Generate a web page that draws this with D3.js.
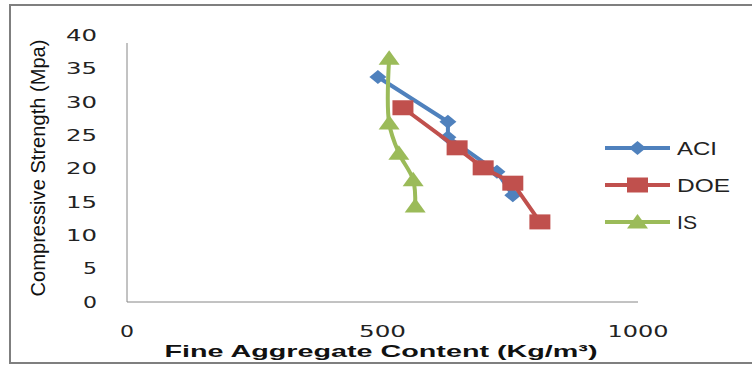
<!DOCTYPE html>
<html><head><meta charset="utf-8">
<script src="https://cdn.jsdelivr.net/npm/d3@7"></script>
<style>body{margin:0;background:#fff}svg{display:block}</style>
</head><body>
<svg id="c" width="752" height="367"></svg>
<script>
const xTicks = [0, 500, 1000];
const yTicks = [0, 5, 10, 15, 20, 25, 30, 35, 40];
const seriesNames = ["ACI", "DOE", "IS"];
const aciX = [491, 628, 628, 724, 755];
const aciY = [33.7, 27.0, 24.7, 19.5, 16.0];
const doeX = [540, 646, 697, 755, 808];
const doeY = [29.1, 23.1, 20.1, 17.8, 12.0];
const isX = [513, 513, 532, 560, 564];
const isY = [36.5, 26.8, 22.3, 18.3, 14.4];

const svg = d3.select("#c");
const x = d3.scaleLinear().domain([0, 1000]).range([127, 638]);
const y = d3.scaleLinear().domain([0, 40]).range([302, 35]);

// frame
svg.append("rect").attr("x", 10).attr("y", 5).attr("width", 800).attr("height", 358)
  .attr("fill", "none").attr("stroke", "#7f7f7f").attr("stroke-width", 2);

// axis lines
svg.append("line").attr("x1", x(0)).attr("x2", x(0)).attr("y1", y(40) + 8).attr("y2", y(0))
  .attr("stroke", "#868686").attr("stroke-width", 1);
svg.append("line").attr("x1", x(0)).attr("x2", x(1000)).attr("y1", y(0)).attr("y2", y(0))
  .attr("stroke", "#868686").attr("stroke-width", 1);

const numFont = "DejaVu Sans, Verdana, sans-serif";
// y tick labels
svg.append("g").selectAll("text").data(yTicks).join("text")
  .attr("x", 97).attr("y", d => y(d)).attr("dy", "0.36em")
  .attr("text-anchor", "end").attr("font-family", numFont).attr("font-size", 16)
  .attr("fill", "#222")
  .attr("textLength", d => String(d).length === 1 ? 14 : 31)
  .attr("lengthAdjust", "spacingAndGlyphs")
  .text(d => d);

// x tick labels
svg.append("g").selectAll("text").data(xTicks).join("text")
  .attr("x", d => x(d)).attr("y", 337)
  .attr("text-anchor", "middle").attr("font-family", numFont).attr("font-size", 16)
  .attr("fill", "#222")
  .attr("textLength", d => [14, 31, 47, 61][String(d).length - 1])
  .attr("lengthAdjust", "spacingAndGlyphs")
  .text(d => d);

// axis titles
svg.append("text").attr("x", 381).attr("y", 357).attr("text-anchor", "middle")
  .attr("font-family", "Liberation Sans, Arial, sans-serif").attr("font-weight", "bold")
  .attr("font-size", 17).attr("fill", "#111")
  .attr("textLength", 433).attr("lengthAdjust", "spacingAndGlyphs")
  .text("Fine Aggregate Content (Kg/m³)");
svg.append("text").attr("transform", "translate(45,168) rotate(-90)").attr("text-anchor", "middle")
  .attr("font-family", "Liberation Sans Narrow, Liberation Sans, Arial, sans-serif")
  .attr("font-size", 21).attr("fill", "#111")
  .attr("textLength", 257).attr("lengthAdjust", "spacingAndGlyphs")
  .text("Compressive Strength (Mpa)");

const colors = {ACI: "#4F81BD", DOE: "#C0504D", IS: "#9BBB59"};
function marker(g, type, cx, cy, color) {
  let p;
  if (type === "ACI") {
    p = `M${cx - 8.5},${cy} L${cx},${cy - 7} L${cx + 8.5},${cy} L${cx},${cy + 7} Z`;
  } else if (type === "DOE") {
    p = `M${cx - 10.5},${cy - 7.5} h21 v15 h-21 Z`;
  } else {
    p = `M${cx - 10.5},${cy + 6.5} L${cx},${cy - 8} L${cx + 10.5},${cy + 6.5} Z`;
  }
  g.append("path").attr("d", p).attr("fill", color);
}

const data = {
  ACI: aciX.map((v, i) => [v, aciY[i]]),
  DOE: doeX.map((v, i) => [v, doeY[i]]),
  IS: isX.map((v, i) => [v, isY[i]])
};

seriesNames.forEach(name => {
  const g = svg.append("g");
  const line = d3.line().x(d => x(d[0])).y(d => y(d[1]));
  if (name === "IS") line.curve(d3.curveCatmullRom.alpha(0.5));
  g.append("path").attr("d", line(data[name])).attr("fill", "none")
    .attr("stroke", colors[name]).attr("stroke-width", 4).attr("stroke-linejoin", "round");
  data[name].forEach(d => marker(g, name, x(d[0]), y(d[1]), colors[name]));
});

// legend
const legY = d3.scalePoint().domain(seriesNames).range([148, 222]);
seriesNames.forEach(name => {
  const g = svg.append("g");
  const ly = legY(name);
  g.append("line").attr("x1", 605).attr("x2", 670).attr("y1", ly).attr("y2", ly)
    .attr("stroke", colors[name]).attr("stroke-width", 4);
  marker(g, name, 637.5, ly, colors[name]);
  g.append("text").attr("x", 677).attr("y", ly + 6.5)
    .attr("font-family", "Liberation Sans, Arial, sans-serif").attr("font-size", 18)
    .attr("fill", "#222")
    .attr("textLength", {ACI: 40, DOE: 53, IS: 20}[name]).attr("lengthAdjust", "spacingAndGlyphs")
    .text(name);
});
</script>
</body></html>
